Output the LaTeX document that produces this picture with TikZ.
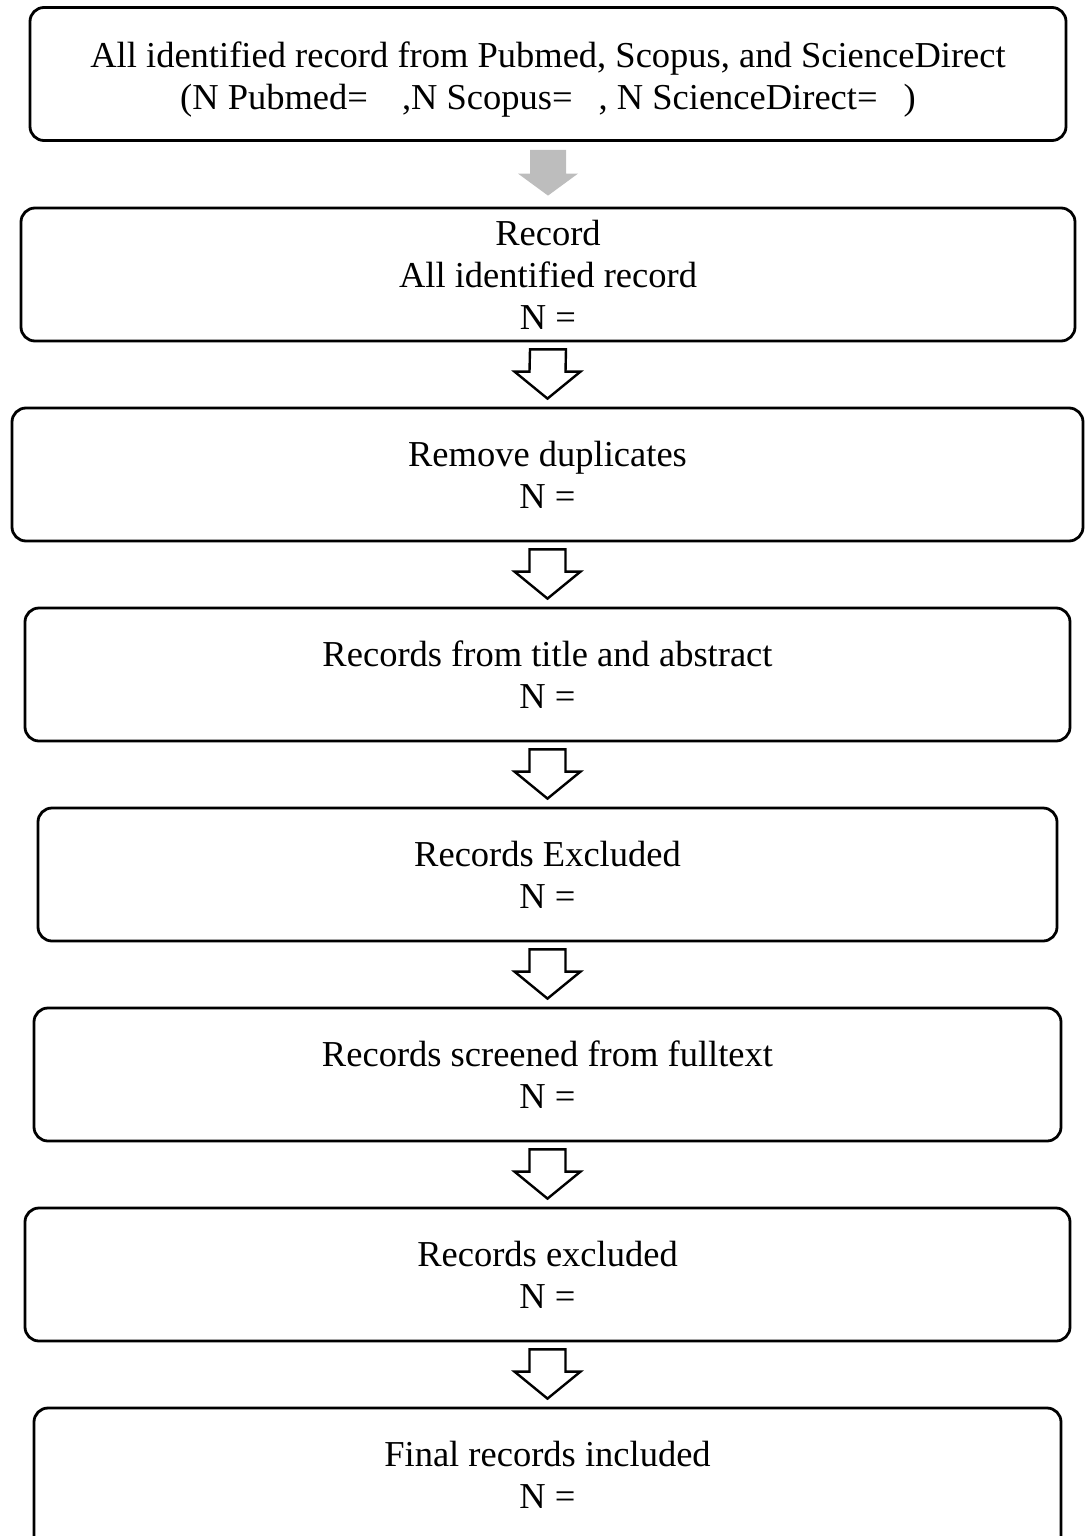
\documentclass[tikz,border=0pt]{standalone}
\usepackage{fontspec}
\setmainfont{Liberation Serif}
\usetikzlibrary{calc}
\tikzset{
  box/.style={draw, line width=2.8pt, rounded corners=14pt, align=center,
    font=\fontsize{36.5}{42}\selectfont, inner sep=0pt, minimum height=133pt},
  txt/.style={align=center, font=\fontsize{36.5}{42}\selectfont, inner sep=0pt},
  harr/.style={draw, line width=2.4pt, fill=white, line join=miter},
  garr/.style={fill=black!26, draw=none}
}
\newcommand{\hollowarrow}[2]{%
  \coordinate (t#1) at ($(#1.south)+(0,7)$);
  \coordinate (h#1) at ($(#2.north)+(0,-8)$);
  \draw[harr] ($(t#1)+(-18,0)$) -- ($(t#1)+(18,0)$) -- ($(h#1)+(18,-27)$) -- ($(h#1)+(33,-27)$)
     -- (h#1) -- ($(h#1)+(-33,-27)$) -- ($(h#1)+(-18,-27)$) -- cycle;
}
\begin{document}
\begin{tikzpicture}[x=1pt,y=-1pt]
\useasboundingbox (0,0) rectangle (1086,1536);
\clip (0,0) rectangle (1086,1536);
\node[box, minimum width=1036pt] (b1) at (548,74) {};
\node[txt] (t1) at (548,79.5)
  {All identified record from Pubmed, Scopus, and ScienceDirect\\(N Pubmed=\hspace{34pt},N Scopus=\hspace{26pt}, N ScienceDirect=\hspace{26pt})};
\node[box, minimum width=1054pt] (b2) at (548,274.5) {Record\\All identified record\\N =};
\node[box, minimum width=1071pt] (b3) at (547.5,474.5) {Remove duplicates\\N =};
\node[box, minimum width=1045pt] (b4) at (547.5,674.5) {Records from title and abstract\\N =};
\node[box, minimum width=1019pt] (b5) at (547.5,874.5) {Records Excluded\\N =};
\node[box, minimum width=1027pt] (b6) at (547.5,1074.5) {Records screened from fulltext\\N =};
\node[box, minimum width=1045pt] (b7) at (547.5,1274.5) {Records excluded\\N =};
\node[box, minimum width=1027pt, minimum height=170pt] (b8) at (547.5,1493) {};
\node[txt] (t8) at (547.5,1474.5) {Final records included\\N =};
% gray arrow
\coordinate (g1) at ($(b1.south)+(0,8)$);
\coordinate (g2) at ($(b2.north)+(0,-11)$);
\fill[garr] ($(g1)+(-18,0)$) -- ($(g1)+(18,0)$) -- ($(g2)+(18,-22)$) -- ($(g2)+(30,-22)$)
   -- (g2) -- ($(g2)+(-30,-22)$) -- ($(g2)+(-18,-22)$) -- cycle;
\hollowarrow{b2}{b3}
\hollowarrow{b3}{b4}
\hollowarrow{b4}{b5}
\hollowarrow{b5}{b6}
\hollowarrow{b6}{b7}
\hollowarrow{b7}{b8}
\end{tikzpicture}
\end{document}
